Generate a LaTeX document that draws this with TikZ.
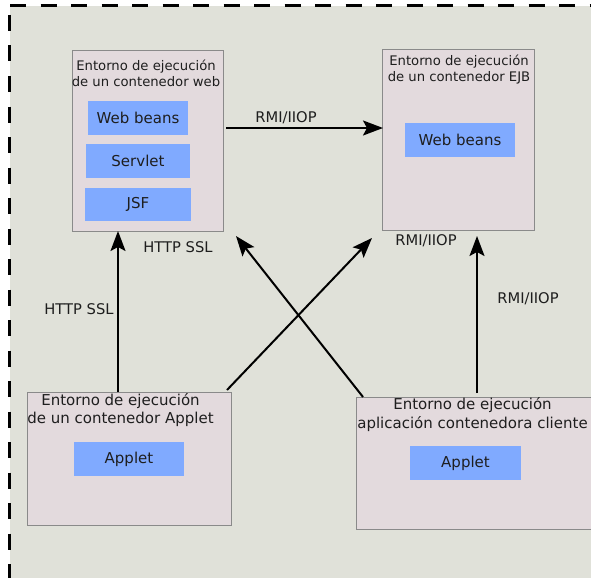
\documentclass[tikz,border=0pt]{standalone}
\usepackage{fontspec}
\setmainfont{DejaVu Sans}
\usetikzlibrary{arrows.meta}
\definecolor{bgc}{HTML}{E0E1D9}
\definecolor{boxc}{HTML}{E3DADD}
\definecolor{bluec}{HTML}{80AAFF}
\definecolor{edgec}{HTML}{8A8A8A}
\definecolor{txtc}{HTML}{1E1E1E}
\tikzset{
  container/.style={draw=edgec, line width=1pt, fill=boxc, inner sep=0pt},
  inner/.style={fill=bluec, inner sep=0pt, text=txtc, font=\fontsize{15}{18}\selectfont},
  titleA/.style={align=center, inner sep=0pt, text=txtc, font=\fontsize{13.2}{16}\selectfont},
  titleB/.style={align=center, inner sep=0pt, text=txtc, font=\fontsize{15}{18.5}\selectfont},
  lbl/.style={inner sep=0pt, text=txtc, font=\fontsize{14.7}{17}\selectfont},
  arr/.style={line width=2pt, -{Stealth[length=20pt,width=15pt,inset=4pt]}},
  frameline/.style={line width=2.4pt, dash pattern=on 16pt off 14.5pt}
}
\begin{document}
\begin{tikzpicture}[x=1pt,y=-1pt]
\useasboundingbox (0,0) rectangle (591,578);
% background
\fill[bgc] (10,6) rectangle (591,578);
\draw[frameline] (10,5.5) -- (591,5.5);
\draw[frameline] (9.5,15) -- (9.5,578);

% containers
\node[container, minimum width=151pt, minimum height=180pt] (webc) at (147.5,141) {};
\node[container, minimum width=152pt, minimum height=180pt] (ejbc) at (458,140) {};
\node[container, minimum width=204pt, minimum height=133pt] (appc) at (129,458.5) {};
\node[container, minimum width=239pt, minimum height=132pt] (clic) at (475.5,463) {};

% titles
\node[titleA] (webt) at (146,73) {Entorno de ejecución\\de un contenedor web};
\node[titleA] (ejbt) at (459,70) {Entorno de ejecución\\de un contenedor EJB};
\node[titleB] (appt) at (120.5,410) {Entorno de ejecución\\de un contenedor Applet};
\node[titleB] (clit) at (472.5,414.5) {Entorno de ejecución\\aplicación contenedora cliente};

% inner boxes
\node[inner, minimum width=100pt, minimum height=34pt] (wb1) at (138,118) {Web beans};
\node[inner, minimum width=104pt, minimum height=34pt] (sv) at (138,161) {Servlet};
\node[inner, minimum width=106pt, minimum height=33pt] (jsf) at (138,204.5) {JSF};
\node[inner, minimum width=110pt, minimum height=34pt] (wb2) at (460,140) {Web beans};
\node[inner, minimum width=110pt, minimum height=34pt] (ap1) at (129,459) {Applet};
\node[inner, minimum width=111pt, minimum height=34pt] (ap2) at (465.5,463) {Applet};

% connector end points
\coordinate (h1) at (226,128);
\coordinate (h2) at (383,128);
\coordinate (v1a) at (118,392);
\coordinate (v1b) at (118,231);
\coordinate (v2a) at (477,393);
\coordinate (v2b) at (477,236);
\coordinate (d1a) at (227,390);
\coordinate (d1b) at (372,238);
\coordinate (d2a) at (363,397);
\coordinate (d2b) at (236,236);

% connectors
\draw[arr] (h1) -- (h2);
\draw[arr] (v1a) -- (v1b);
\draw[arr] (v2a) -- (v2b);
\draw[arr] (d1a) -- (d1b);
\draw[arr] (d2a) -- (d2b);

% labels
\node[lbl] (l1) at (286,118) {RMI/IIOP};
\node[lbl] (l2) at (79,309) {HTTP SSL};
\node[lbl] (l3) at (178,247) {HTTP SSL};
\node[lbl] (l4) at (426,241) {RMI/IIOP};
\node[lbl] (l5) at (528,299) {RMI/IIOP};
\end{tikzpicture}
\end{document}
